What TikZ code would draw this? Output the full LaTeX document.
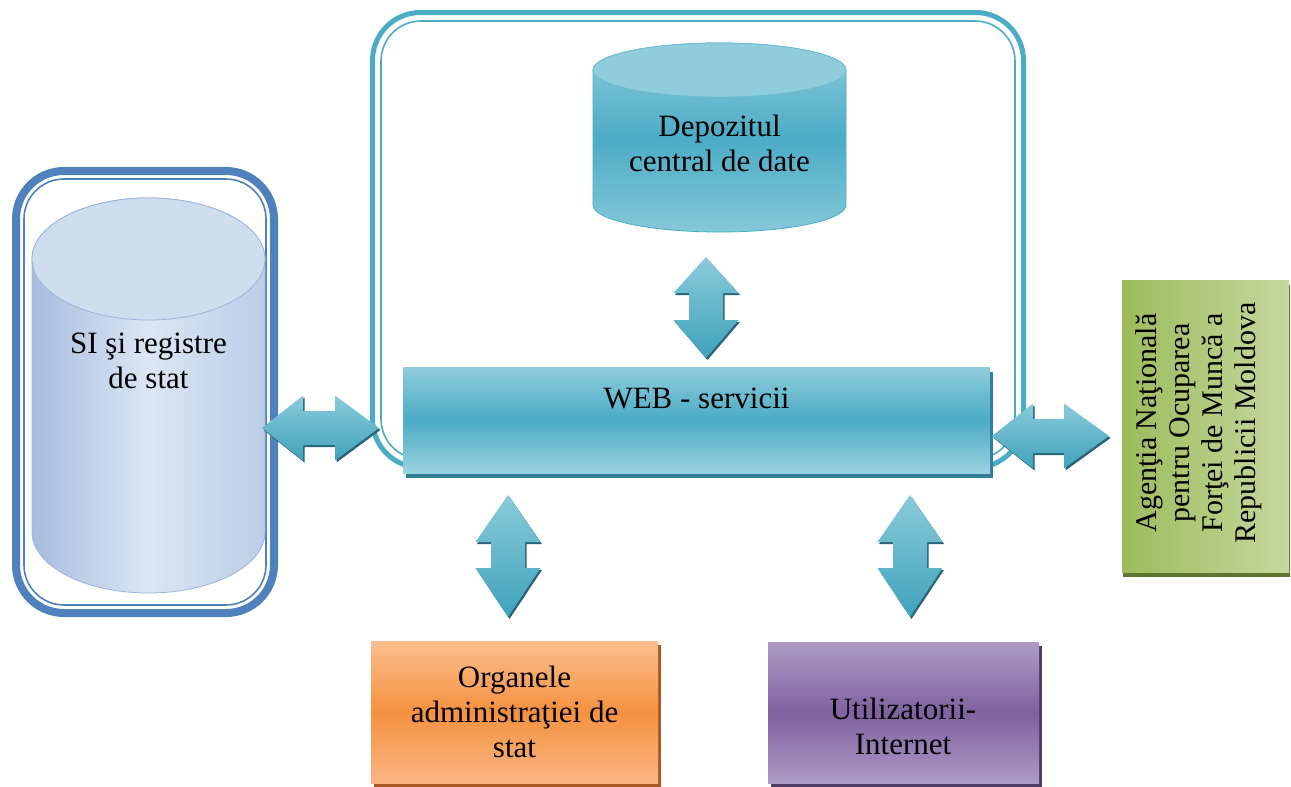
\documentclass[tikz,border=0pt]{standalone}
\usepackage{fontspec}
\setmainfont{Liberation Serif}
\usetikzlibrary{calc,shadows}

\definecolor{frameblue}{HTML}{4F81BD}
\definecolor{aqua}{HTML}{4BACC6}
\definecolor{aqualight}{HTML}{8FCCDC}
\definecolor{aquadark}{HTML}{2E7F95}
\definecolor{arrowtop}{HTML}{8ACBDB}
\definecolor{arrowbot}{HTML}{3FA2BC}
\definecolor{arrowshade}{HTML}{2A6577}
\definecolor{sileft}{HTML}{A6BCDF}
\definecolor{simid}{HTML}{DCE6F3}
\definecolor{siright}{HTML}{BCCDE8}
\definecolor{sicap}{HTML}{D0DDEF}
\definecolor{siline}{HTML}{9DB4D8}
\definecolor{orangetop}{HTML}{FBBE8E}
\definecolor{orangemid}{HTML}{F59140}
\definecolor{orangebot}{HTML}{FAB583}
\definecolor{orangeshade}{HTML}{A85A22}
\definecolor{purpletop}{HTML}{AE9CC6}
\definecolor{purplemid}{HTML}{7E62A0}
\definecolor{purplebot}{HTML}{AD9AC5}
\definecolor{purpleshade}{HTML}{4F3C66}
\definecolor{greenleft}{HTML}{9DBB5C}
\definecolor{greenright}{HTML}{C5D89E}
\definecolor{greenshade}{HTML}{5E7530}

\tikzset{
  txt/.style={align=center, text=black, inner sep=0pt, outer sep=0pt,
    font=\fontsize{31}{35}\selectfont},
  leftframe/.style={draw=frameblue, line width=8pt, rounded corners=48pt,
    inner sep=0pt, outer sep=0pt},
  leftthin/.style={draw=frameblue, line width=1.6pt, rounded corners=40pt},
  hubframe/.style={draw=aqua, line width=5pt, rounded corners=48pt,
    inner sep=0pt, outer sep=0pt},
  hubthin/.style={draw=aqua, line width=1.6pt, rounded corners=40pt},
  plainbox/.style={inner sep=0pt, outer sep=0pt, draw=none},
  webbox/.style={plainbox, top color=aqualight, bottom color=aqualight!90!white,
    middle color=aqua,
    drop shadow={shadow xshift=3pt, shadow yshift=-5pt, fill=aquadark, opacity=1}},
  orgbox/.style={plainbox, txt, top color=orangetop, bottom color=orangebot,
    middle color=orangemid,
    drop shadow={shadow xshift=3pt, shadow yshift=-4pt, fill=orangeshade, opacity=1}},
  usrbox/.style={plainbox, top color=purpletop, bottom color=purplebot,
    middle color=purplemid,
    drop shadow={shadow xshift=3pt, shadow yshift=-4pt, fill=purpleshade, opacity=1}},
  greenbox/.style={plainbox, left color=greenleft, right color=greenright,
    drop shadow={shadow xshift=1pt, shadow yshift=-5pt, fill=greenshade, opacity=1}},
  blockarrow/.style={top color=arrowtop, bottom color=arrowbot, draw=none,
    drop shadow={shadow xshift=1.5pt, shadow yshift=-2pt, fill=arrowshade, opacity=1}},
  sibody/.style={left color=sileft, right color=siright, middle color=simid,
    draw=siline, line width=0.8pt},
  sitop/.style={fill=sicap, draw=siline, line width=0.8pt},
  depbody/.style={top color=aqualight, bottom color=aqualight!85!aqua,
    middle color=aqua, draw=aqua, line width=0.8pt},
  deptop/.style={fill=aqualight, draw=aqua!80!white, line width=0.8pt}
}

% two-headed block arrow between two named points:
% #1 head length at the start, #2 head length at the end, #3 start, #4 end
\newcommand\dblarrow[4]{%
  \path[blockarrow] (#3)
    -- ($(#3)!#1!(#4)!32.5pt!90:(#4)$)
    -- ($(#3)!#1!(#4)!17pt!90:(#4)$)
    -- ($(#4)!#2!(#3)!17pt!-90:(#3)$)
    -- ($(#4)!#2!(#3)!32.5pt!-90:(#3)$)
    -- (#4)
    -- ($(#4)!#2!(#3)!32.5pt!90:(#3)$)
    -- ($(#4)!#2!(#3)!17pt!90:(#3)$)
    -- ($(#3)!#1!(#4)!17pt!-90:(#4)$)
    -- ($(#3)!#1!(#4)!32.5pt!-90:(#4)$)
    -- cycle;}

\begin{document}
\begin{tikzpicture}[x=1pt, y=-1pt]
\useasboundingbox (0,0) rectangle (1291,787);
\fill[white] (0,0) rectangle (1291,787);

% state registers: framed cylinder on the left
\node[leftframe, minimum width=258pt, minimum height=442pt] (siframe) at (145,392) {};
\draw[leftthin] ([shift={(8,8)}]siframe.north west) rectangle ([shift={(-8,-8)}]siframe.south east);
\path[sibody] (32,259) -- (32,532)
  arc[start angle=180, end angle=360, x radius=116.5pt, y radius=61pt]
  -- (265,259)
  arc[start angle=0, end angle=180, x radius=116.5pt, y radius=61pt] -- cycle;
\path[sitop] (148.5,259) ellipse [x radius=116.5pt, y radius=61pt];
\node[txt] (si) at (148.5,361) {SI şi registre\\de stat};

% central hub frame
\node[hubframe, minimum width=651pt, minimum height=455pt] (hub) at (698,240) {};
\draw[hubthin] ([shift={(8.5,8.5)}]hub.north west) rectangle ([shift={(-8.5,-8.5)}]hub.south east);

% central data warehouse cylinder
\path[depbody] (593,70) -- (593,205)
  arc[start angle=180, end angle=360, x radius=126.5pt, y radius=27pt]
  -- (846,70)
  arc[start angle=0, end angle=180, x radius=126.5pt, y radius=27pt] -- cycle;
\path[deptop] (719.5,70) ellipse [x radius=126.5pt, y radius=27pt];
\node[txt] (dep) at (719.5,143) {Depozitul\\central de date};

% web services bar
\node[webbox, minimum width=587pt, minimum height=106pt] (web) at (696.5,420) {};
\node[txt] (webtxt) at (696.5,398) {WEB - servicii};

% national employment agency
\node[greenbox, minimum width=167pt, minimum height=292pt] (anofm) at (1205.5,426) {};
\node[txt, rotate=90, font=\fontsize{30}{33}\selectfont] (anofmtxt) at (1199,423)
  {Agenţia Naţională\\pentru Ocuparea\\Forţei de Muncă a\\Republicii Moldova};

% bottom boxes
\node[orgbox, minimum width=287pt, minimum height=142pt] (org) at (514.5,712)
  {Organele\\administraţiei de\\stat};
\node[usrbox, minimum width=271pt, minimum height=141pt] (usr) at (903.5,712.5) {};
\node[txt] (usrtxt) at (903,726) {Utilizatorii-\\Internet};

% arrow end points, placed against the boxes they join
\coordinate (siR)   at ($(siframe.east)+(-12,36)$);
\coordinate (hubL)  at ($(hub.west |- siR)+(6.5,0)$);
\coordinate (depB)  at (706,257);
\coordinate (webT)  at ($(web.north -| depB)+(0,-9)$);
\coordinate (webR)  at ($(web.east)+(2,16)$);
\coordinate (agL)   at ($(anofm.west |- webR)+(-13,0)$);
\coordinate (webB1) at ($(web.south -| org.north)+(-6.5,22)$);
\coordinate (orgT)  at ($(org.north)+(-6.5,-24)$);
\coordinate (webB2) at ($(web.south -| usr.north)+(6.5,22)$);
\coordinate (usrT)  at ($(usr.north)+(6.5,-25)$);

% two-headed connectors
\dblarrow{41pt}{44pt}{siR}{hubL}
\dblarrow{36pt}{38pt}{depB}{webT}
\dblarrow{41pt}{45pt}{webR}{agL}
\dblarrow{47pt}{49pt}{webB1}{orgT}
\dblarrow{47pt}{49pt}{webB2}{usrT}
\end{tikzpicture}
\end{document}
